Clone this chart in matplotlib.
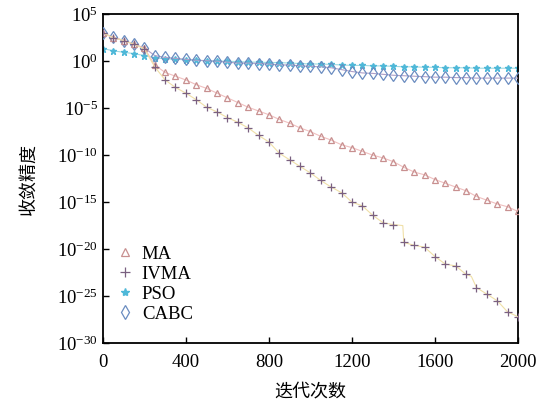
import numpy as np
import matplotlib.pyplot as plt

plt.rcParams['font.family'] = ['Liberation Serif', 'Noto Sans CJK SC']
plt.rcParams['mathtext.fontset'] = 'stix'

# iterations (markers every 50)
iters = list(range(0, 2001, 50))

# log10 of convergence precision
ma_log = [3.0, 2.5, 2.2, 1.8, 1.4, -0.4, -1.2, -1.6, -2.0, -2.5, -2.9, -3.4, -3.9, -4.4,
          -4.9, -5.3, -5.7, -6.2, -6.6, -7.1, -7.5, -8.0, -8.4, -8.9, -9.2, -9.6, -10.0,
          -10.3, -10.7, -11.3, -11.8, -12.1, -12.6, -13.0, -13.4, -13.8, -14.4, -14.8,
          -15.2, -15.5, -16.0]

ivma_iters = [0, 50, 100, 150, 200, 250, 300, 350, 400, 450, 500, 550, 600, 650, 700, 750,
              800, 850, 900, 950, 1000, 1050, 1100, 1150, 1200, 1250, 1300, 1350, 1400,
              1445, 1450, 1500, 1550, 1600, 1650, 1700, 1750, 1775, 1800, 1850, 1900,
              1950, 2000]
ivma_log = [3.0, 2.5, 2.2, 1.8, 1.3, -0.6, -2.0, -2.8, -3.4, -4.1, -4.9, -5.4, -6.0, -6.5,
            -7.1, -7.9, -8.6, -9.8, -10.5, -11.2, -11.9, -12.7, -13.4, -14.0, -15.0, -15.4,
            -16.4, -17.2, -17.4, -17.5, -19.3, -19.6, -19.8, -20.8, -21.6, -21.8, -22.7,
            -22.9, -24.1, -24.8, -25.5, -26.7, -27.2]

pso_log = [1.35, 1.1, 0.95, 0.8, 0.6, 0.35, 0.25, 0.2, 0.15, 0.1, 0.05, 0.0, 0.0, -0.05,
           -0.1, -0.1, -0.15, -0.15, -0.2, -0.25, -0.3, -0.3, -0.35, -0.4, -0.45, -0.45,
           -0.5, -0.5, -0.55, -0.6, -0.6, -0.65, -0.65, -0.7, -0.7, -0.7, -0.75, -0.75,
           -0.75, -0.75, -0.75]

cabc_log = [3.0, 2.55, 2.2, 1.8, 1.4, 0.6, 0.4, 0.3, 0.2, 0.1, 0.05, 0.0, -0.1, -0.2,
            -0.2, -0.25, -0.3, -0.4, -0.4, -0.5, -0.55, -0.6, -0.7, -0.9, -1.1, -1.25,
            -1.3, -1.4, -1.5, -1.55, -1.6, -1.65, -1.7, -1.7, -1.75, -1.75, -1.8, -1.8,
            -1.8, -1.8, -1.8]

fig = plt.figure(figsize=(5.47, 4.12), dpi=100)
ax = fig.add_axes([0.188, 0.1675, 0.759, 0.798])

ivma_marks = [i for i, t in enumerate(ivma_iters) if t % 50 == 0]

ax.plot(iters, 10.0 ** np.array(cabc_log), color='#b0a0c8', lw=0.8, marker='d', ms=6,
        mfc='none', mec='#6a8cc0', mew=0.9, label='CABC', zorder=3)
ax.plot(iters, 10.0 ** np.array(pso_log), color='#9fd8e0', lw=0.8, marker='*', ms=5,
        mfc='#4fb8d8', mec='#4fb8d8', label='PSO', zorder=2)
ax.plot(iters, 10.0 ** np.array(ma_log), color='#f0c0c0', lw=0.8, marker='^', ms=5,
        mfc='none', mec='#c89090', mew=0.9, label='MA', zorder=4)
ax.plot(ivma_iters, 10.0 ** np.array(ivma_log), color='#f0e0a8', lw=0.8, marker='+', ms=6,
        mec='#7a6080', mew=0.9, markevery=ivma_marks, label='IVMA', zorder=5)

ax.set_yscale('log')
ax.set_xlim(0, 2000)
ax.set_ylim(1e-30, 1e5)
ax.set_xticks([0, 400, 800, 1200, 1600, 2000])
ax.set_yticks([10.0 ** k for k in range(5, -31, -5)])
ax.minorticks_off()
ax.tick_params(direction='in', length=4, width=1, labelsize=13.5, top=False, right=False)
ax.tick_params(axis='x', pad=8)
for s in ax.spines.values():
    s.set_linewidth(1.3)

ax.set_xlabel('迭代次数', fontsize=13, family=['Noto Sans CJK SC'], labelpad=8)
ax.set_ylabel('收敛精度', fontsize=13, family=['Noto Sans CJK SC'], labelpad=14)

h, l = ax.get_legend_handles_labels()
order = [l.index(n) for n in ['MA', 'IVMA', 'PSO', 'CABC']]
leg_h = []
for i in order:
    hh = h[i]
    leg_h.append(plt.Line2D([], [], ls='none', marker=hh.get_marker(), ms=hh.get_markersize() + 1,
                            mfc=hh.get_markerfacecolor(), mec=hh.get_markeredgecolor(),
                            mew=hh.get_markeredgewidth()))
ax.legend(leg_h, [l[i] for i in order], loc='lower left', frameon=False, fontsize=13.5,
          handlelength=1.0, handletextpad=0.4, labelspacing=0.15,
          bbox_to_anchor=(-0.01, 0.01))

fig.savefig('out.png', dpi=100)
